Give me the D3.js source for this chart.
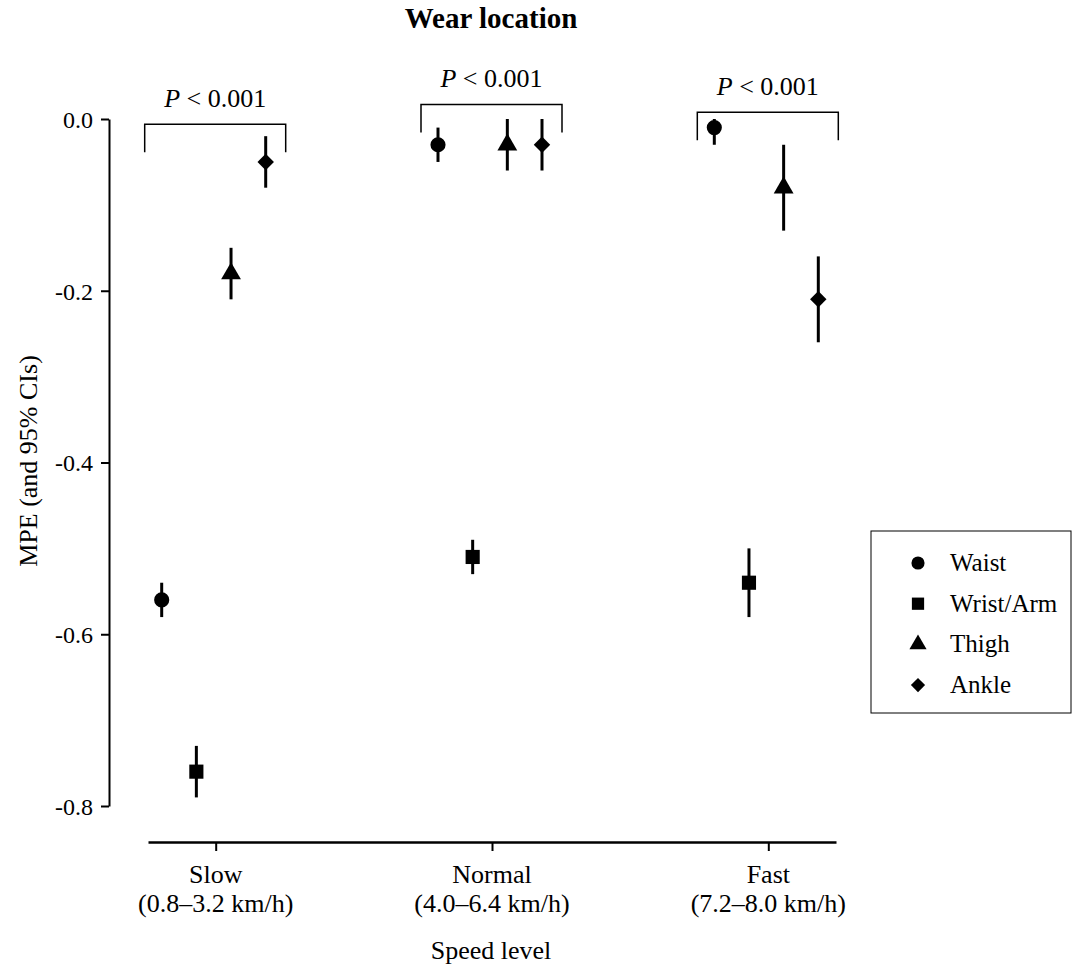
<!DOCTYPE html>
<html>
<head>
<meta charset="utf-8">
<script src="https://cdn.jsdelivr.net/npm/d3@7"></script>
<style>
  body { margin: 0; background: #fff; }
  text { font-family: "Liberation Serif", "Times New Roman", serif; fill: #000; }
</style>
</head>
<body>
<div id="chart"></div>
<script>
// Data
const speeds      = ["Slow", "Normal", "Fast"];
const speedRanges = ["(0.8\u20133.2 km/h)", "(4.0\u20136.4 km/h)", "(7.2\u20138.0 km/h)"];
const locations   = ["Waist", "Wrist/Arm", "Thigh", "Ankle"];

// MPE per location (rows) per speed (cols)
const mpe   = [[-0.56, -0.03, -0.01], [-0.76, -0.51, -0.54], [-0.18, -0.03, -0.08], [-0.05, -0.03, -0.21]];
const ciLow = [[-0.58, -0.05, -0.03], [-0.79, -0.53, -0.58], [-0.21, -0.06, -0.13], [-0.08, -0.06, -0.26]];
const ciHi  = [[-0.54, -0.01,  0.00], [-0.73, -0.49, -0.50], [-0.15,  0.00, -0.03], [-0.02,  0.00, -0.16]];

const pLabels  = ["< 0.001", "< 0.001", "< 0.001"];
const bracketY = [-0.006, 0.017, 0.008];
const yTicks   = [0, -0.2, -0.4, -0.6, -0.8];

const W = 1073, H = 968;
const svg = d3.select("#chart").append("svg")
  .attr("width", W).attr("height", H);

// Marker shapes: circle, square, triangle, diamond (square turned 45deg)
const markers = [
  { type: d3.symbolCircle,   size: 180, rot: 0 },
  { type: d3.symbolSquare,   size: 200, rot: 0 },
  { type: d3.symbolTriangle, size: 170, rot: 0 },
  { type: d3.symbolSquare,   size: 135, rot: 45 }
];

// Scales
const y = d3.scaleLinear().domain([0, -0.8]).range([119, 806]);
const x = d3.scalePoint().domain(speeds).range([148, 836]).padding(0.245);
const off = d3.scalePoint().domain(locations).range([-54, 50]);

// Y axis
const yAxis = svg.append("g")
  .attr("transform", "translate(109,0)")
  .call(d3.axisLeft(y).tickValues(yTicks)
    .tickFormat(d => d3.format(".1f")(d).replace("\u2212", "-"))
    .tickSize(8).tickSizeOuter(0));
yAxis.select(".domain").attr("stroke-width", 2);
yAxis.selectAll(".tick line").attr("stroke-width", 2);
yAxis.selectAll(".tick text")
  .attr("x", -16).attr("dy", "0.35em")
  .style("font-size", "24px");

// X axis
const xAxis = svg.append("g")
  .attr("transform", "translate(0,842)")
  .call(d3.axisBottom(x).tickSize(9).tickSizeOuter(0).tickFormat(""));
xAxis.select(".domain").attr("stroke-width", 2.5);
xAxis.selectAll(".tick line").attr("stroke-width", 2);

const xl = svg.append("g");
speeds.forEach((s, i) => {
  const t = xl.append("text")
    .attr("text-anchor", "middle")
    .style("font-size", "26px");
  t.append("tspan").attr("x", x(s)).attr("y", 883).text(s);
  t.append("tspan").attr("x", x(s)).attr("y", 912).text(speedRanges[i]);
});

svg.append("text")
  .attr("x", 491).attr("y", 959).attr("text-anchor", "middle")
  .style("font-size", "26px").text("Speed level");

svg.append("text")
  .attr("transform", "translate(37,461) rotate(-90)")
  .attr("text-anchor", "middle")
  .style("font-size", "26px").text("MPE (and 95% CIs)");

// Title
svg.append("text")
  .attr("x", 491).attr("y", 28).attr("text-anchor", "middle")
  .style("font-size", "29px").style("font-weight", "bold")
  .text("Wear location");

// Significance brackets
speeds.forEach((s, i) => {
  const x0 = x(s) + off(locations[0]) - 17;
  const x1 = x(s) + off(locations[3]) + 20;
  const yb = y(bracketY[i]);
  svg.append("path")
    .attr("d", `M${x0},${yb + 28}V${yb}H${x1}V${yb + 28}`)
    .attr("fill", "none").attr("stroke", "#000").attr("stroke-width", 1.5);
  const t = svg.append("text")
    .attr("x", (x0 + x1) / 2).attr("y", yb - 17).attr("text-anchor", "middle")
    .style("font-size", "26px");
  t.append("tspan").style("font-style", "italic").text("P");
  t.append("tspan").text(" " + pLabels[i]);
});

// Error bars and markers
const pts = svg.append("g");
locations.forEach((loc, li) => {
  const m = markers[li];
  speeds.forEach((s, si) => {
    const cx = x(s) + off(loc);
    pts.append("line")
      .attr("x1", cx).attr("x2", cx)
      .attr("y1", y(ciHi[li][si])).attr("y2", y(ciLow[li][si]))
      .attr("stroke", "#000").attr("stroke-width", 3);
    pts.append("path")
      .attr("d", d3.symbol().type(m.type).size(m.size)())
      .attr("transform", `translate(${cx},${y(mpe[li][si])}) rotate(${m.rot})`)
      .attr("fill", "#000");
  });
});

// Legend
const lg = svg.append("g").attr("transform", "translate(871,531)");
lg.append("rect")
  .attr("width", 200).attr("height", 182)
  .attr("fill", "none").attr("stroke", "#000").attr("stroke-width", 1);
locations.forEach((loc, i) => {
  const m = markers[i];
  const yy = 32 + i * 40.7;
  lg.append("path")
    .attr("d", d3.symbol().type(m.type).size(m.size * 0.75)())
    .attr("transform", `translate(47,${yy}) rotate(${m.rot})`)
    .attr("fill", "#000");
  lg.append("text")
    .attr("x", 79).attr("y", yy + 8)
    .style("font-size", "25px").text(loc);
});
</script>
</body>
</html>
